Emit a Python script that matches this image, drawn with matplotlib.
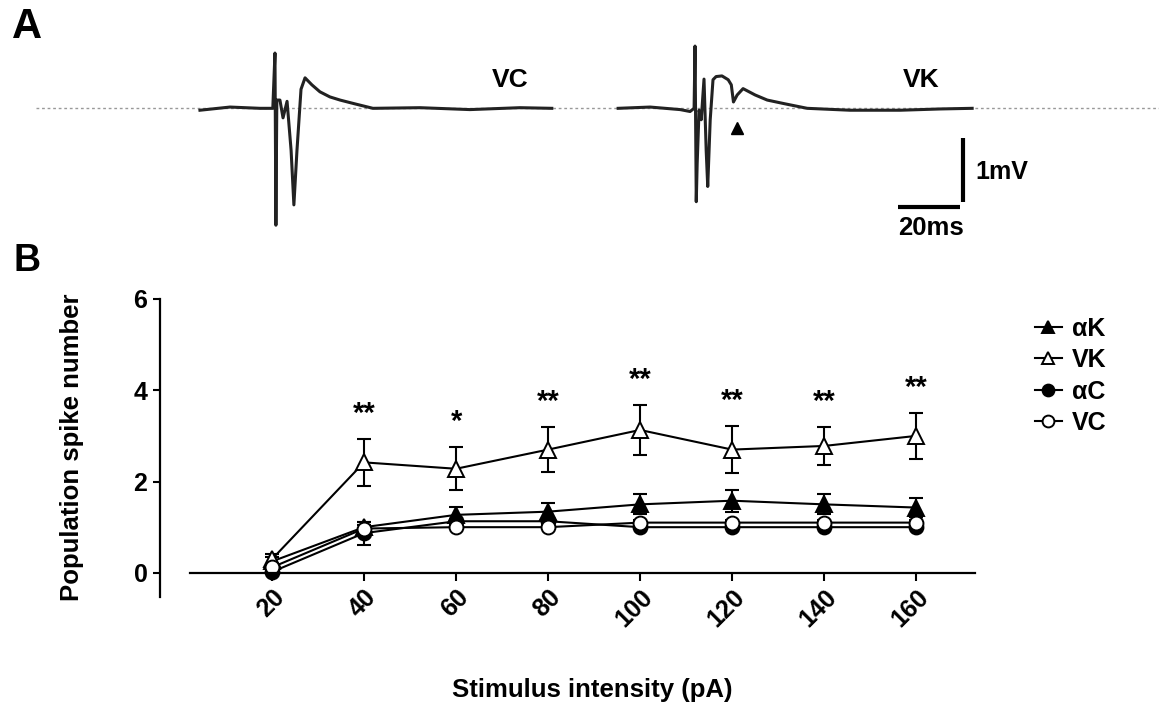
import numpy as np
import matplotlib
matplotlib.use("Agg")
import matplotlib.pyplot as plt

plt.rcParams['font.family'] = ['Liberation Sans', 'DejaVu Sans']

# ---- panel A: example traces (time in ms from trace start, voltage in mV)
vc_t = [0, 9.7, 19.4, 23.5, 24.2, 24.5, 24.8, 25.8, 26.8, 28.1, 29.4, 30.3, 31.3,
        32.6, 33.9, 36.1, 38.7, 41.9, 45.2, 50.0, 55.8, 71.0, 87.1, 103.2, 113.5]
vc_v = [-0.03, 0.02, 0.0, 0.0, 0.87, -1.84, 0.13, 0.13, -0.15, 0.11, -0.66, -1.52, -0.66,
        0.3, 0.48, 0.37, 0.26, 0.18, 0.13, 0.07, 0.0, 0.01, -0.02, 0.01, 0.0]
vk_t = [0, 10.3, 20.0, 23.2, 24.5, 24.8, 25.2, 25.5, 26.1, 26.8, 27.7, 28.4, 28.9, 29.7,
        30.6, 31.6, 33.5, 35.5, 36.5, 37.2, 38.4, 40.3, 44.2, 48.1, 53.9, 61.0, 74.8,
        91.0, 103.9, 114.2]
vk_v = [0.0, 0.02, -0.02, -0.05, 0.0, 0.98, -1.47, -0.86, -0.03, -0.18, 0.46, -0.66, -1.23,
        -0.18, 0.45, 0.5, 0.51, 0.45, 0.37, 0.1, 0.21, 0.31, 0.21, 0.13, 0.07, 0.0, -0.03,
        -0.03, -0.01, 0.0]
vc_start = 64.5
vk_start = 199.4

# ---- panel B: population spike number
intensity = [20, 40, 60, 80, 100, 120, 140, 160]
ak_mean = [0.25, 1.0, 1.27, 1.34, 1.5, 1.58, 1.5, 1.43]
ak_err = [0.1, 0.12, 0.18, 0.18, 0.22, 0.24, 0.22, 0.2]
vk_mean = [0.3, 2.42, 2.28, 2.7, 3.13, 2.7, 2.78, 3.0]
vk_err = [0.12, 0.52, 0.47, 0.5, 0.55, 0.52, 0.42, 0.5]
ac_mean = [0.02, 0.87, 1.13, 1.13, 1.0, 1.0, 1.0, 1.0]
ac_err = [0.05, 0.25, 0.05, 0.05, 0.05, 0.05, 0.05, 0.05]
vc_mean = [0.12, 0.97, 1.0, 1.0, 1.1, 1.1, 1.1, 1.1]
vc_err = [0.05, 0.08, 0.05, 0.05, 0.05, 0.05, 0.05, 0.05]
stars = ['', '**', '*', '**', '**', '**', '**', '**']

W, H = 1159, 702
fig = plt.figure(figsize=(W / 100, H / 100), dpi=100)

# panel A
axa = fig.add_axes([0, 1 - 250 / H, 1, 250 / H])
axa.set_xlim(0, W / 3.1)
axa.set_ylim(-2.23, 1.705)
axa.axis('off')
axa.plot([11.6, W / 3.1], [0, 0], color='#999999', lw=1, ls=(0, (2, 2)))
axa.plot(np.array(vc_t) + vc_start, vc_v, color='#222222', lw=2.2)
axa.plot(np.array(vk_t) + vk_start, vk_v, color='#222222', lw=2.2)
axa.plot([237.7], [-0.31], marker='^', color='black', ms=9)
axa.plot([289.8, 309.8], [-1.55, -1.55], color='black', lw=3, solid_capstyle='butt')
axa.plot([310.7, 310.7], [-1.47, -0.47], color='black', lw=3, solid_capstyle='butt')
fig.text(510 / W, 1 - 80 / H, 'VC', fontsize=19, fontweight='bold', ha='center', va='center')
fig.text(921 / W, 1 - 80 / H, 'VK', fontsize=19, fontweight='bold', ha='center', va='center')
fig.text(975 / W, 1 - 172 / H, '1mV', fontsize=18, fontweight='bold', ha='left', va='center')
fig.text(931 / W, 1 - 228 / H, '20ms', fontsize=18.5, fontweight='bold', ha='center', va='center')

fig.text(27 / W, 1 - 27 / H, 'A', fontsize=30, fontweight='bold', ha='center', va='center')
fig.text(27 / W, 1 - 261 / H, 'B', fontsize=27, fontweight='bold', ha='center', va='center')

# panel B
ax = fig.add_axes([160 / W, 1 - 597 / H, 815 / W, 298 / H])
ax.set_xlim(-4.35, 172.8)
ax.set_ylim(-0.53, 6.0)
for s in ['top', 'right']:
    ax.spines[s].set_visible(False)
ax.spines['bottom'].set_position(('data', 0))
ax.spines['bottom'].set_bounds(2.2, 172.8)
ax.spines['left'].set_bounds(-0.53, 6.0)
for s in ['bottom', 'left']:
    ax.spines[s].set_linewidth(1.6)

series = [
    (ak_mean, ak_err, '^', 'black', 'αK', 11),
    (vk_mean, vk_err, '^', 'white', 'VK', 11),
    (ac_mean, ac_err, 'o', 'black', 'αC', 10),
    (vc_mean, vc_err, 'o', 'white', 'VC', 10),
]
handles = []
for mean, err, mk, fc, lab, ms in series:
    ax.errorbar(intensity, mean, yerr=err, fmt='none', ecolor='black',
                elinewidth=1.5, capsize=5, capthick=1.5)
    ln, = ax.plot(intensity, mean, marker=mk, ms=ms, mfc=fc, mec='black', mew=1.4,
                  color='black', lw=1.5, label=lab)
    handles.append(ln)

for x, m, e, s in zip(intensity, vk_mean, vk_err, stars):
    if s:
        ax.text(x, m + e + 0.55, s, fontsize=21, fontweight='bold', ha='center', va='center')

ax.set_yticks([0, 2, 4, 6])
ax.set_xticks(intensity)
ax.tick_params(axis='both', direction='out', width=1.5, labelsize=18)
ax.tick_params(axis='y', length=5, pad=4)
ax.tick_params(axis='x', length=6, pad=3)
for lbl in ax.get_yticklabels():
    lbl.set_fontweight('bold')
ax.set_xticklabels([str(v) for v in intensity], rotation=45, ha='right',
                   rotation_mode='anchor', fontweight='bold')

fig.text(592 / W, 1 - 690 / H, 'Stimulus intensity (pA)', fontsize=18.5,
         fontweight='bold', ha='center', va='center')
fig.text(72 / W, 1 - 447 / H, 'Population spike number', fontsize=18.5,
         fontweight='bold', ha='center', va='center', rotation=90)

fig.legend(handles=handles, loc='upper left', bbox_to_anchor=(1012 / W, 1 - 294 / H),
           frameon=False, handlelength=1.1, handletextpad=0.4, labelspacing=0.3,
           markerscale=0.85, prop={'size': 18, 'weight': 'bold'})

fig.savefig('out.png', dpi=100)
